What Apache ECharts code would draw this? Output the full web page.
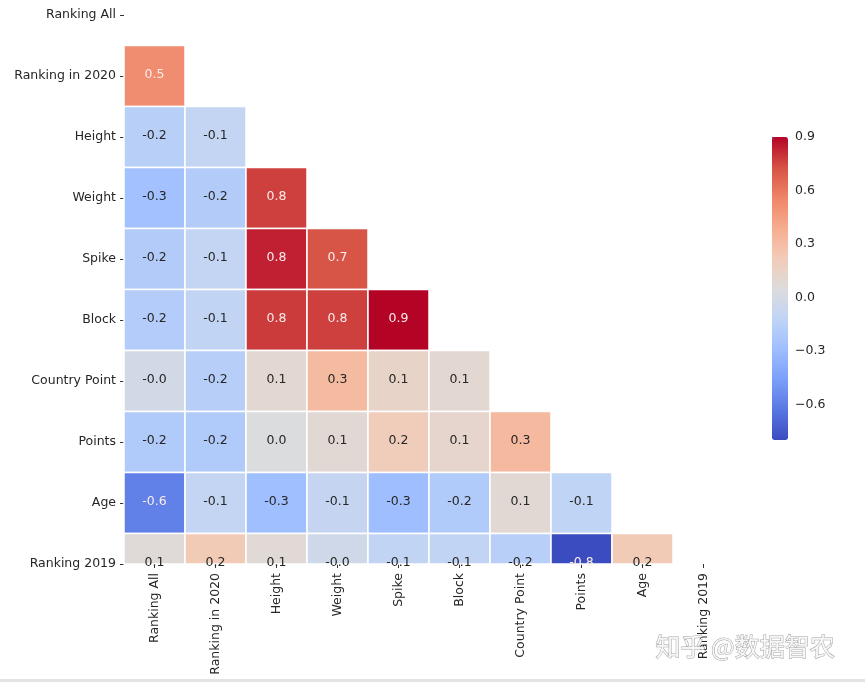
<!DOCTYPE html>
<html>
<head>
<meta charset="utf-8">
<script src="https://cdn.jsdelivr.net/npm/echarts@6/dist/echarts.min.js"></script>
<style>html,body{margin:0;padding:0;background:#fff}#c{width:865px;height:682px}</style>
</head>
<body>
<div id="c"></div>
<script>
const categories = ['Ranking All','Ranking in 2020','Height','Weight','Spike','Block','Country Point','Points','Age','Ranking 2019'];
// lower-triangle correlation rows (row i has i values, columns 0..i-1)
const rowRankingIn2020 = [0.52];
const rowHeight = [-0.16, -0.10];
const rowWeight = [-0.27, -0.19, 0.77];
const rowSpike = [-0.19, -0.10, 0.84, 0.72];
const rowBlock = [-0.18, -0.11, 0.78, 0.77, 0.90];
const rowCountryPoint = [-0.02, -0.17, 0.10, 0.31, 0.14, 0.10];
const rowPoints = [-0.20, -0.20, 0.04, 0.09, 0.20, 0.12, 0.32];
const rowAge = [-0.59, -0.10, -0.28, -0.09, -0.29, -0.20, 0.09, -0.12];
const rowRanking2019 = [0.07, 0.22, 0.08, -0.03, -0.11, -0.11, -0.16, -0.80, 0.22];
const colorbarTicks = [-0.6, -0.3, 0.0, 0.3, 0.6, 0.9];
const colorMin = -0.80, colorMax = 0.90;
const coolwarm = ['#3b4cc0','#5977e3','#7b9ff9','#9ebeff','#c0d4f5','#dddcdc','#f2cbb7','#f7ac8e','#ee8468','#d65244','#b40426'];

const rows = [[], rowRankingIn2020, rowHeight, rowWeight, rowSpike, rowBlock, rowCountryPoint, rowPoints, rowAge, rowRanking2019];
const data = [];
rows.forEach((r, i) => r.forEach((v, j) => data.push([j, i, v])));

const FONT = 'DejaVu Sans';
const chart = echarts.init(document.getElementById('c'));
chart.setOption({
  backgroundColor: '#fff',
  animation: false,
  grid: [
    {left: 124, top: 15, width: 610, height: 549, containLabel: false},
    {left: 772, top: 137, width: 16, height: 303, containLabel: false}
  ],
  xAxis: [
    {type: 'category', data: categories, gridIndex: 0, position: 'bottom',
     axisLine: {show: false}, splitLine: {show: false},
     axisTick: {show: true, alignWithLabel: true, length: 4, lineStyle: {color: '#333', width: 1}},
     axisLabel: {rotate: 90, margin: 9, color: '#262626', fontFamily: FONT, fontSize: 12.5, interval: 0}},
    {type: 'value', gridIndex: 1, min: 0, max: 1, show: false}
  ],
  yAxis: [
    {type: 'category', data: categories, gridIndex: 0, inverse: true, boundaryGap: false,
     axisLine: {show: false}, splitLine: {show: false},
     axisTick: {show: true, length: 4, lineStyle: {color: '#333', width: 1}},
     axisLabel: {margin: 8, color: '#262626', fontFamily: FONT, fontSize: 12.5, interval: 0}},
    {type: 'value', gridIndex: 1, min: colorMin, max: colorMax, position: 'right',
     axisLine: {show: false}, splitLine: {show: false},
     axisTick: {show: true, length: 4, customValues: colorbarTicks, lineStyle: {color: '#333', width: 1}},
     axisLabel: {show: true, margin: 7, customValues: colorbarTicks, color: '#262626', fontFamily: FONT, fontSize: 12.5,
       formatter: v => (v < -1e-9 ? '\u2212' + Math.abs(v).toFixed(1) : Math.abs(v).toFixed(1))}}
  ],
  visualMap: {
    type: 'continuous', seriesIndex: 0, dimension: 2,
    min: colorMin, max: colorMax, calculable: false, hoverLink: false,
    orient: 'vertical', left: 772, top: 137, itemWidth: 16, itemHeight: 303, padding: 0,
    text: null, showLabel: false,
    inRange: {color: coolwarm}
  },
  series: [{
    type: 'custom',
    coordinateSystem: 'cartesian2d',
    xAxisIndex: 0, yAxisIndex: 0,
    encode: {x: 0, y: 1},
    data: data,
    renderItem: function (params, api) {
      const v = api.value(2);
      const c = api.coord([api.value(0), api.value(1)]);
      const s = api.size([1, 1]);
      const rect = echarts.graphic.clipRectByRect(
        {x: c[0] - s[0] / 2, y: c[1] - s[1] / 2, width: s[0], height: s[1]},
        {x: params.coordSys.x, y: params.coordSys.y, width: params.coordSys.width, height: params.coordSys.height});
      const children = [];
      if (rect) {
        children.push({type: 'rect', shape: rect,
          style: {fill: api.visual('color'), stroke: '#ffffff', lineWidth: 1.5}});
      }
      children.push({type: 'text', x: c[0], y: c[1] - 1, z2: 10,
        style: {text: v.toFixed(1), align: 'center', verticalAlign: 'middle',
          fill: Math.abs(v) >= 0.45 ? '#fbecec' : '#262626', font: '12.5px ' + FONT}});
      return {type: 'group', children: children};
    }
  }],
  graphic: [
    {type: 'text', left: 655, top: 633, z: 100,
     style: {text: '知乎 @数据智农', font: '25px "Noto Sans CJK SC"', fill: 'rgba(248,248,248,0.95)', stroke: '#a5a5a5', lineWidth: 1}},
    {type: 'rect', left: 0, top: 679, z: 100, shape: {width: 865, height: 3}, style: {fill: '#e4e4e4'}}
  ]
});
</script>
</body>
</html>
